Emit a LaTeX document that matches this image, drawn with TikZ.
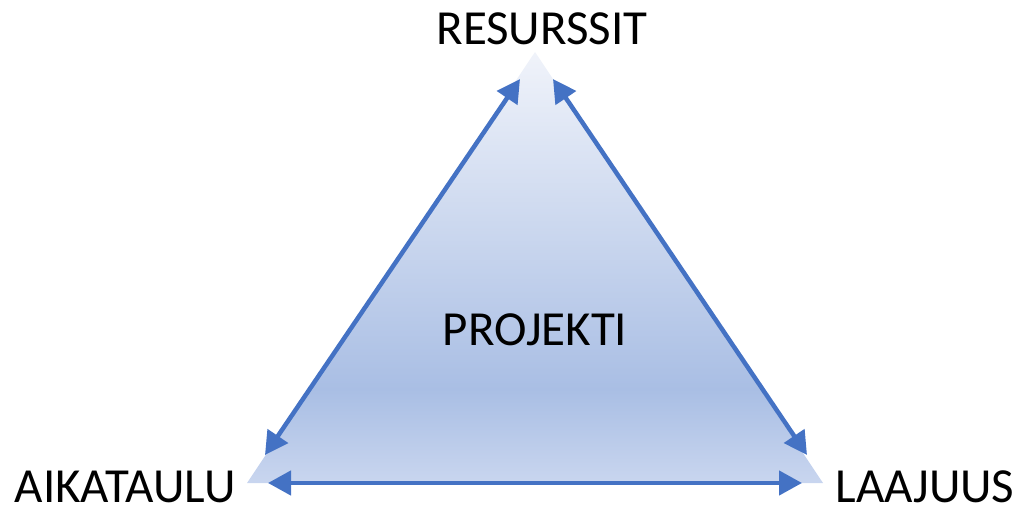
\documentclass[tikz,border=0pt]{standalone}
\usepackage{fontspec}
\setmainfont{Carlito}
\usetikzlibrary{arrows.meta}
\definecolor{arrowblue}{HTML}{4472C4}
\definecolor{topfill}{HTML}{F0F3FA}
\definecolor{midfill}{HTML}{A9BEE4}
\definecolor{lowfill}{HTML}{C9D6EF}
\begin{document}
\begin{tikzpicture}
[
    x=1pt, y=-1pt,
    label/.style={inner sep=0pt, anchor=base, font=\fontsize{49}{52}\selectfont},
    link/.style={arrowblue, line width=4.5pt,
        {Triangle[length=23pt,width=24pt]}-{Triangle[length=23pt,width=24pt]}},
]
\useasboundingbox (0,0) rectangle (1021,506);
\coordinate (apex) at (535,52);
\coordinate (baseL) at (247,483);
\coordinate (baseR) at (823,483);
\begin{scope}
\clip (apex) -- (baseL) -- (baseR) -- cycle;
\shade[top color=topfill, bottom color=midfill] (240,52) rectangle (830,390);
\shade[top color=midfill, bottom color=lowfill] (240,389) rectangle (830,484);
\end{scope}
\coordinate (lt) at (520,79);
\coordinate (lb) at (265,455);
\coordinate (rt) at (553,79);
\coordinate (rb) at (807,455);
\coordinate (bl) at (268,483);
\coordinate (br) at (802,483);
\draw[link] (lb) -- (lt);
\draw[link] (rt) -- (rb);
\draw[link] (bl) -- (br);
\node[label] (res) at (542,45) {RESURSSIT};
\node[label] (proj) at (535,345) {PROJEKTI};
\node[label] (aika) at (125,502) {AIKATAULU};
\node[label] (laaj) at (925,502) {LAAJUUS};
\end{tikzpicture}
\end{document}
